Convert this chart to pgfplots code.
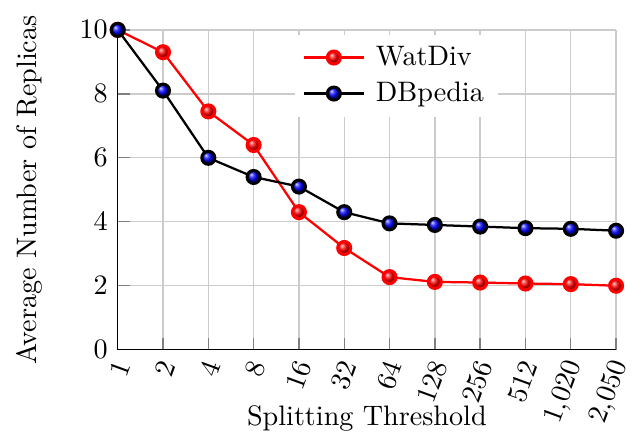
\documentclass[border=0pt]{standalone}
\usepackage{pgfplots}
\pgfplotsset{compat=1.18}
\pgfdeclareplotmark{ringball}{%
  \pgfpathcircle{\pgfpointorigin}{\pgfplotmarksize}%
  \pgfshadepath{ball}{0}%
  \pgfusepath{}%
  \pgfpathcircle{\pgfpointorigin}{\pgfplotmarksize}%
  \pgfusepath{stroke}%
}
\begin{document}
\begin{tikzpicture}
\begin{axis}[
  name=ax,
  scale only axis,
  width=177pt, height=113.6pt,
  axis lines*=left,
  xmin=0, xmax=11, ymin=0, ymax=10,
  xtick={0,...,11},
  xticklabels={1,2,4,8,16,32,64,128,256,512,{1,020},{2,050}},
  x tick label style={rotate=70, anchor=east, yshift=-3pt},
  ytick={0,2,4,6,8,10},
  grid=major,
  grid style={gray!40, line width=0.5pt},
  major tick style={gray, line width=0.5pt},
  tick align=inside,
  xlabel={Splitting Threshold},
  ylabel={Average Number of Replicas},
  ylabel style={yshift=6.4pt},
  xlabel style={at={(axis description cs:0.5,0)}, anchor=north, yshift=-16.5pt},
  clip=false,
  legend style={at={(0.559,0.987)}, anchor=north, draw=none, fill=white, row sep=0.4pt, column sep=2pt, font=\normalsize},
  legend cell align=left,
  legend image code/.code={\draw[mark repeat=2,mark phase=2] plot coordinates {(0cm,0cm) (0.37cm,0cm) (0.74cm,0cm)};},
]
\addplot[red, line width=0.8pt, mark=ringball, mark size=2.3pt, mark options={ball color=red, draw=red, line width=1.1pt}]
  coordinates {(0,10) (1,9.3) (2,7.45) (3,6.4) (4,4.3) (5,3.18) (6,2.27) (7,2.12) (8,2.1) (9,2.07) (10,2.05) (11,2.0)};
\addlegendentry{WatDiv}
\addplot[black, line width=0.8pt, mark=ringball, mark size=2.3pt, mark options={ball color=blue, draw=black, line width=1.1pt}]
  coordinates {(0,10) (1,8.1) (2,6.0) (3,5.4) (4,5.1) (5,4.3) (6,3.95) (7,3.9) (8,3.85) (9,3.8) (10,3.78) (11,3.72)};
\addlegendentry{DBpedia}
\end{axis}
\path (ax.south west) ++(-41.8pt,-31.2pt);
\path (ax.north east) ++(9.2pt,10.6pt);
\end{tikzpicture}
\end{document}
